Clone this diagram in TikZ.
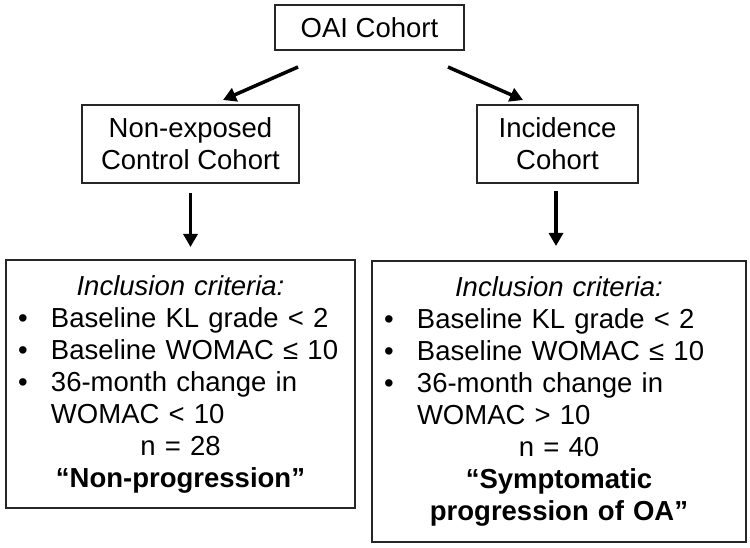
\documentclass[tikz,border=0pt]{standalone}
\usepackage{fontspec}
\setmainfont{Liberation Sans}
\usetikzlibrary{arrows.meta}

\newcommand\critem[1]{\makebox[\hsize][l]{\hspace{6pt}\makebox[33pt][l]{\textbullet}#1}}
\newcommand\critcont[1]{\makebox[\hsize][l]{\hspace{39pt}#1}}

\begin{document}
\begin{tikzpicture}[x=1pt,y=1pt,
    every node/.style={font=\fontsize{27.5}{32}\selectfont, outer sep=0pt},
    cohort/.style={draw=black!85, line width=1.2pt, align=center, inner sep=0pt},
    critbox/.style={draw=black!85, line width=1.2pt, align=center, inner xsep=6pt, inner ysep=0pt},
    arr/.style={line width=3.5pt, -{Triangle[length=13pt,width=14pt]}}]
      \useasboundingbox (0,0) rectangle (750,547);
      % cohorts
      \node[cohort, minimum width=189pt, minimum height=45pt] (oai) at (369.5,519.5) {OAI Cohort};
      \node[cohort, minimum width=217pt, minimum height=78pt] (ctrl) at (190.5,403) {Non-exposed\\Control Cohort};
      \node[cohort, minimum width=161pt, minimum height=78pt] (inc) at (557.5,403) {Incidence\\Cohort};
      % inclusion criteria
      \node[critbox, text width=337pt, minimum height=248pt] (nonprog) at (180.5,163) {%
        \textit{Inclusion criteria:}\\
        \critem{Baseline KL grade < 2}\\
        \critem{Baseline WOMAC ≤ 10}\\
        \critem{36-month change in}\\
        \critcont{WOMAC < 10}\\
        n = 28\\
        \textbf{“Non-progression”}};
      \node[critbox, text width=362pt, minimum height=281pt] (symprog) at (559,145.5) {%
        \textit{Inclusion criteria:}\\
        \critem{Baseline KL grade < 2}\\
        \critem{Baseline WOMAC ≤ 10}\\
        \critem{36-month change in}\\
        \critcont{WOMAC > 10}\\
        n = 40\\
        \textbf{“Symptomatic}\\
        \textbf{progression of OA”}};
      % arrow ends
      \coordinate (oaiL) at ([shift={(23pt,-17pt)}]oai.south west);
      \coordinate (oaiR) at ([shift={(-16pt,-17pt)}]oai.south east);
      \coordinate (ctrlIn) at ([shift={(-76pt,5pt)}]ctrl.north east);
      \coordinate (incIn) at ([shift={(46pt,5pt)}]inc.north west);
      \coordinate (ctrlOut) at ([yshift=-10pt]ctrl.south);
      \coordinate (incOut) at ([shift={(-1.5pt,-8pt)}]inc.south);
      \coordinate (nonprogIn) at ([shift={(10pt,13pt)}]nonprog.north);
      \coordinate (symprogIn) at ([shift={(-3pt,15pt)}]symprog.north);
      \draw[arr] (oaiL) -- (ctrlIn);
      \draw[arr] (oaiR) -- (incIn);
      \draw[arr] (ctrlOut) -- (nonprogIn);
      \draw[arr] (incOut) -- (symprogIn);
    \end{tikzpicture}
\end{document}
